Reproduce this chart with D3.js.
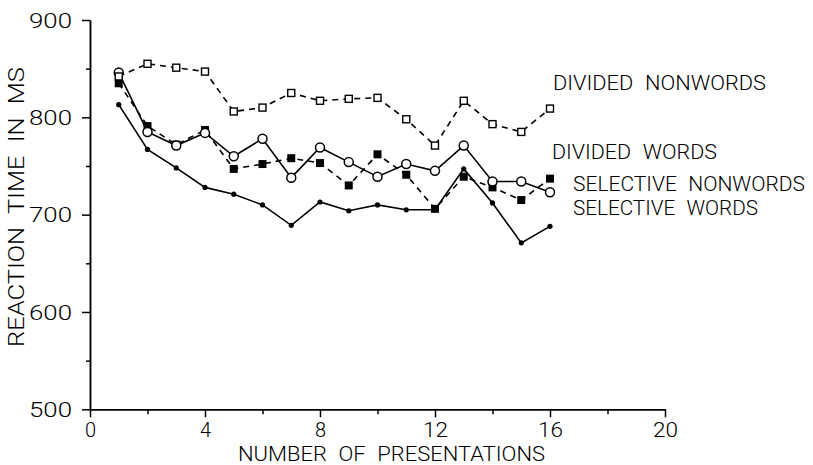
<!DOCTYPE html>
<html>
<head>
<meta charset="utf-8">
<script src="https://cdn.jsdelivr.net/npm/d3@7/dist/d3.min.js"></script>
<style>
  html, body { margin: 0; padding: 0; background: #fff; }
  svg { display: block; }
  text { font-family: Roboto, "Liberation Sans", Arial, sans-serif; font-weight: 300; fill: #000; }
</style>
</head>
<body>
<svg id="chart" width="813" height="465"></svg>
<script>
// ---- data ----
const presentations = [1,2,3,4,5,6,7,8,9,10,11,12,13,14,15,16];
const dividedNonwords   = [842,855,851,847,806,810,825,817,819,820,798,771,817,793,785,809];
const dividedWords      = [846,785,771,784,760,778,738,769,754,739,752,745,771,734,734,723];
const selectiveNonwords = [835,791,772,787,747,752,758,753,730,762,741,706,739,728,715,737];
const selectiveWords    = [813,767,748,728,721,710,689,713,704,710,705,705,747,712,671,688];
const xTicks = [0,4,8,12,16,20];
const xMinorTicks = [2,6,10,14,18];
const yTicks = [500,600,700,800,900];
const yMinorTicks = [550,650,750,850];
const seriesNames = ["DIVIDED NONWORDS","DIVIDED WORDS","SELECTIVE NONWORDS","SELECTIVE WORDS"];
const xTitle = "NUMBER OF PRESENTATIONS";
const yTitle = "REACTION TIME IN MS";

// ---- layout ----
const FONT = 'Roboto, "Liberation Sans", Arial, sans-serif';
const svg = d3.select("#chart");
svg.append("rect").attr("width",813).attr("height",465).attr("fill","#fff");
const x = d3.scaleLinear().domain([0,20]).range([90,665]);
const y = d3.scaleLinear().domain([500,900]).range([409.3,20]);

// axes
const axW = 1.5;
const gy = svg.append("g").attr("transform",`translate(${x(0)},0)`)
  .call(d3.axisLeft(y).tickValues(yTicks).tickSize(8).tickSizeOuter(0).tickPadding(10));
const gyMinor = svg.append("g").attr("transform",`translate(${x(0)},0)`)
  .call(d3.axisLeft(y).tickValues(yMinorTicks).tickSize(4).tickSizeOuter(0).tickFormat(""));
const gx = svg.append("g").attr("transform",`translate(0,${y(500)})`)
  .call(d3.axisBottom(x).tickValues(xTicks).tickSize(8).tickSizeOuter(0).tickPadding(5));
const gxMinor = svg.append("g").attr("transform",`translate(0,${y(500)})`)
  .call(d3.axisBottom(x).tickValues(xMinorTicks).tickSize(5).tickSizeOuter(0).tickFormat(""));
[gy,gyMinor,gx,gxMinor].forEach(g => {
  g.selectAll("path,line").attr("stroke","#000").attr("stroke-width",axW);
  g.selectAll("text").attr("fill","#000").style("font-family",FONT).style("font-weight",300);
});
gy.selectAll("text").attr("font-size",20).attr("textLength",43).attr("lengthAdjust","spacingAndGlyphs").attr("dy","0.36em");
gx.selectAll("text").attr("font-size",20).attr("dy","0.72em")
  .each(function(d){ if (String(d).length===2) d3.select(this).attr("textLength",25).attr("lengthAdjust","spacingAndGlyphs"); });

// titles
svg.append("text").attr("x",238).attr("y",461).attr("font-size",21).attr("word-spacing",6)
  .attr("textLength",307).attr("lengthAdjust","spacingAndGlyphs").text(xTitle);
svg.append("text").attr("transform","translate(24,347) rotate(-90)").attr("font-size",22).attr("word-spacing",6)
  .attr("textLength",280).attr("lengthAdjust","spacingAndGlyphs").text(yTitle);

// series
const line = d3.line().x((d,i)=>x(presentations[i])).y(d=>y(d));
const series = [
  {name: seriesNames[0], vals: dividedNonwords, dash: "6,5", marker: "openSquare", lx: 553, ly: 90, lw: 213},
  {name: seriesNames[1], vals: dividedWords, dash: null, marker: "openCircle", lx: 552, ly: 159.3, lw: 165},
  {name: seriesNames[2], vals: selectiveNonwords, dash: "6,5", marker: "filledSquare", lx: 573, ly: 190.7, lw: 232},
  {name: seriesNames[3], vals: selectiveWords, dash: null, marker: "dot", lx: 573, ly: 215, lw: 185}
];
const drawOrder = [3,2,1,0];
drawOrder.forEach(k => {
  const s = series[k];
  svg.append("path").datum(s.vals).attr("d",line).attr("fill","none")
    .attr("stroke","#000").attr("stroke-width",1.6)
    .attr("stroke-dasharray",s.dash);
});
drawOrder.forEach(k => {
  const s = series[k];
  const g = svg.append("g");
  s.vals.forEach((v,i) => {
    const cx = x(presentations[i]), cy = y(v);
    if (s.marker === "openSquare") {
      g.append("rect").attr("x",cx-3.5).attr("y",cy-3.5).attr("width",7).attr("height",7)
        .attr("fill","#fff").attr("stroke","#000").attr("stroke-width",1.4);
    } else if (s.marker === "filledSquare") {
      g.append("rect").attr("x",cx-4).attr("y",cy-4).attr("width",8).attr("height",8).attr("fill","#000");
    } else if (s.marker === "openCircle") {
      g.append("circle").attr("cx",cx).attr("cy",cy).attr("r",4.5)
        .attr("fill","#fff").attr("stroke","#000").attr("stroke-width",1.5);
    } else {
      g.append("circle").attr("cx",cx).attr("cy",cy).attr("r",2.6).attr("fill","#000");
    }
  });
  svg.append("text").attr("x",s.lx).attr("y",s.ly).attr("font-size",20).attr("word-spacing",6)
    .attr("textLength",s.lw).attr("lengthAdjust","spacingAndGlyphs").text(s.name);
});
</script>
</body>
</html>
